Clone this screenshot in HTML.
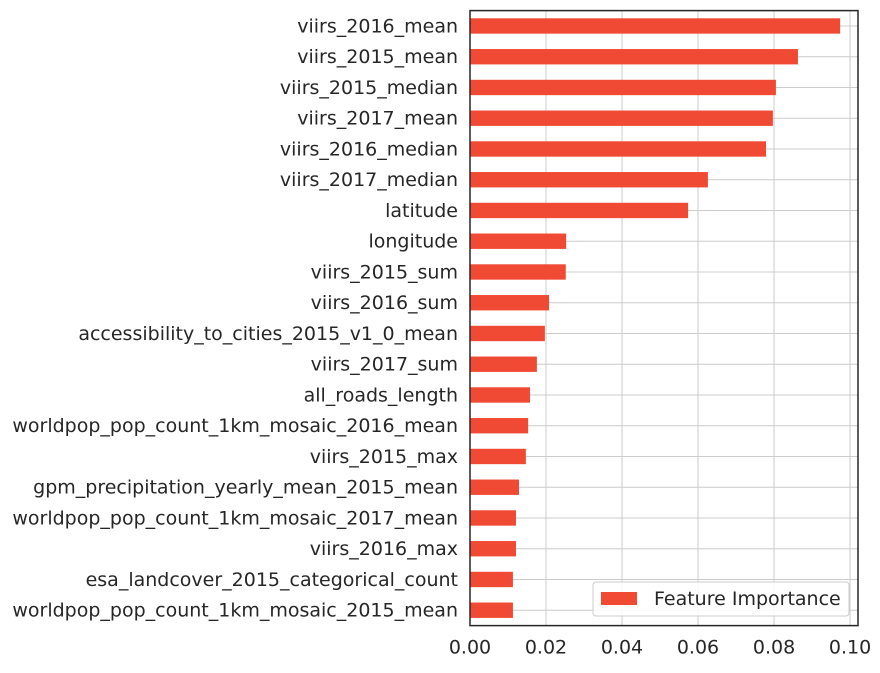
<!DOCTYPE html>
<html><head><meta charset="utf-8"><style>
body{margin:0;background:#fff;}
svg text{font-family:"DejaVu Sans","Liberation Sans",sans-serif;fill:#262626;}
</style></head><body>
<svg id="chart" width="880" height="668" xmlns="http://www.w3.org/2000/svg"></svg>
<script>
const features=["viirs_2016_mean","viirs_2015_mean","viirs_2015_median","viirs_2017_mean","viirs_2016_median","viirs_2017_median","latitude","longitude","viirs_2015_sum","viirs_2016_sum","accessibility_to_cities_2015_v1_0_mean","viirs_2017_sum","all_roads_length","worldpop_pop_count_1km_mosaic_2016_mean","viirs_2015_max","gpm_precipitation_yearly_mean_2015_mean","worldpop_pop_count_1km_mosaic_2017_mean","viirs_2016_max","esa_landcover_2015_categorical_count","worldpop_pop_count_1km_mosaic_2015_mean"];
const importance=[0.0974,0.0863,0.0805,0.0797,0.0779,0.0626,0.0574,0.0253,0.0252,0.0208,0.0197,0.0176,0.0158,0.0153,0.0147,0.0129,0.0121,0.0121,0.0113,0.0113];
const xTicks=[0,0.02,0.04,0.06,0.08,0.10];
const xTickLabels=["0.00","0.02","0.04","0.06","0.08","0.10"];
const NS="http://www.w3.org/2000/svg",svg=document.getElementById('chart');
const L=470,R=858,T=10.6,B=625.6,xMax=0.1021,FS=19;
const x=v=>L+v/xMax*(R-L);
const step=(B-T)/features.length;
const y=i=>T+step*(i+0.5);
function mk(t,a,p){const e=document.createElementNS(NS,t);for(const k in a)e.setAttribute(k,a[k]);(p||svg).appendChild(e);return e;}
const grid=mk('g',{});


xTicks.forEach(v=>mk('line',{x1:x(v),x2:x(v),y1:T,y2:B,stroke:'#cccccc','stroke-width':1},grid));
features.forEach((f,i)=>mk('line',{x1:L,x2:R,y1:y(i),y2:y(i),stroke:'#cccccc','stroke-width':1},grid));
features.forEach((f,i)=>{
 const r=mk('rect',{x:L,y:y(i)-step*0.25,width:x(importance[i])-L,height:step*0.5,fill:'#f14a34'});
 
 
 const t=mk('text',{x:L-12,y:y(i)+6.5,'text-anchor':'end','font-size':FS});
 t.textContent=f;
 
 
});
xTicks.forEach((v,i)=>{
 const t=mk('text',{x:x(v),y:B+28,'text-anchor':'middle','font-size':FS});
 t.textContent=xTickLabels[i];
 
 
});
const ax=mk('rect',{x:L,y:T,width:R-L,height:B-T,fill:'none',stroke:'#262626','stroke-width':1.5});


const lg=mk('g',{});


mk('rect',{x:593,y:582,width:256,height:34,rx:3,fill:'#fff','fill-opacity':0.85,stroke:'#cccccc'},lg);
mk('rect',{x:601,y:592,width:36,height:13,fill:'#f14a34'},lg);
const lt=mk('text',{x:654,y:605,'font-size':FS},lg);
lt.textContent='Feature Importance';
</script>
</body></html>
